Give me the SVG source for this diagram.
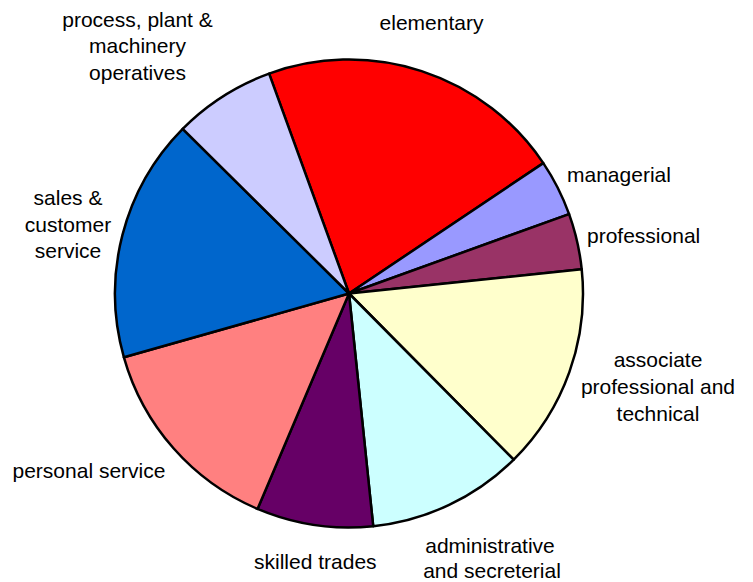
<svg xmlns="http://www.w3.org/2000/svg" width="753" height="582" viewBox="0 0 753 582">
<style>
.s{stroke:#000;stroke-width:2.5;stroke-linejoin:round}
text{font-family:"Liberation Sans",Arial,sans-serif;font-size:21px;fill:#000}
.m{text-anchor:middle}
</style>
<rect width="753" height="582" fill="#fff"/>
<g id="slices">
<g id="elementary"><path class="s" fill="#FF0000" d="M349,293.5 L269.1,73.6 A234,234 0 0 1 543.3,163.1 Z"/></g>
<g id="managerial"><path class="s" fill="#9999FF" d="M349,293.5 L543.3,163.1 A234,234 0 0 1 569.1,214.1 Z"/></g>
<g id="professional"><path class="s" fill="#993366" d="M349,293.5 L569.1,214.1 A234,234 0 0 1 581.7,269.2 Z"/></g>
<g id="associate"><path class="s" fill="#FFFFCC" d="M349,293.5 L581.7,269.2 A234,234 0 0 1 513.7,459.7 Z"/></g>
<g id="administrative"><path class="s" fill="#CCFFFF" d="M349,293.5 L513.7,459.7 A234,234 0 0 1 373.2,526.2 Z"/></g>
<g id="skilled"><path class="s" fill="#660066" d="M349,293.5 L373.2,526.2 A234,234 0 0 1 257.5,508.9 Z"/></g>
<g id="personal"><path class="s" fill="#FF8080" d="M349,293.5 L257.5,508.9 A234,234 0 0 1 123.9,357.3 Z"/></g>
<g id="sales"><path class="s" fill="#0066CC" d="M349,293.5 L123.9,357.3 A234,234 0 0 1 182.7,128.8 Z"/></g>
<g id="process"><path class="s" fill="#CCCCFF" d="M349,293.5 L182.7,128.8 A234,234 0 0 1 269.1,73.6 Z"/></g>
</g>
<g id="labels">
<text class="m" x="431.5" y="30">elementary</text>
<text class="m" x="137.5" y="27">process, plant &amp;</text>
<text class="m" x="137.5" y="53">machinery</text>
<text class="m" x="137.5" y="80">operatives</text>
<text x="567" y="182">managerial</text>
<text x="587" y="243">professional</text>
<text class="m" x="658" y="367">associate</text>
<text class="m" x="658" y="394">professional and</text>
<text class="m" x="658" y="421">technical</text>
<text class="m" x="68" y="205">sales &amp;</text>
<text class="m" x="68" y="232">customer</text>
<text class="m" x="68" y="258">service</text>
<text x="12.5" y="478">personal service</text>
<text class="m" x="315.3" y="569">skilled trades</text>
<text class="m" x="490" y="553">administrative</text>
<text class="m" x="492" y="578">and secreterial</text>
</g>
</svg>
